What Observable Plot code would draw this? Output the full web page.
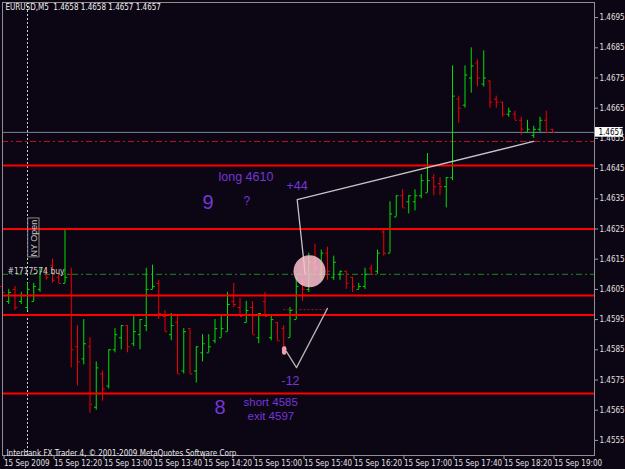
<!DOCTYPE html>
<html><head><meta charset="utf-8">
<script src="https://cdn.jsdelivr.net/npm/d3@7"></script>
<script src="https://cdn.jsdelivr.net/npm/@observablehq/plot@0.6"></script>
<style>
html,body{margin:0;padding:0;background:#0b0514;}
#chart svg{display:block;}
</style></head><body><div id="chart"></div>
<script>
// EURUSD M5 bars, 15 Sep 2009 11:40 .. 19:00 (bar index 0 = 11:40)
const opens = [1.4606,1.4601,1.4605,1.4601,1.4599,1.4601,1.4605,1.4611,1.4613,1.4609,
1.4607,1.4610,1.4586,1.4582,1.4586,1.4566,1.4577,1.4573,1.4585,1.4589,
1.4593,1.4587,1.4590,1.4593,1.4605,1.4607,1.4596,1.4590,1.4594,1.4578,
1.4592,1.4578,1.4584,1.4584,1.4588,1.4589,1.4591,1.4601,1.4599,1.4594,
1.4599,1.4589,1.4601,1.4589,1.4594,1.4592,1.4589,1.4595,1.4607,1.4605,
1.4614,1.4610,1.4617,1.4609,1.4610,1.4611,1.4609,1.4605,1.4606,1.4612,
1.4611,1.4624,1.4617,1.4629,1.4636,1.4634,1.4634,1.4636,1.4637,1.4642,
1.4640,1.4639,1.4642,1.4668,1.4666,1.4675,1.4680,1.4673,1.4674,1.4668,
1.4667,1.4663,1.4663,1.4661,1.4657,1.4656,1.4658,1.4661,1.4658];
const highs = [1.4607,1.4605,1.4606,1.4604,1.4607,1.4607,1.4612,1.4612,1.4615,1.4610,
1.4625,1.4612,1.4593,1.4595,1.4589,1.4581,1.4578,1.4585,1.4592,1.4593,
1.4593,1.4596,1.4595,1.4612,1.4613,1.4608,1.4598,1.4597,1.4596,1.4592,
1.4592,1.4586,1.4590,1.4590,1.4595,1.4596,1.4604,1.4607,1.4602,1.4601,
1.4601,1.4597,1.4604,1.4596,1.4594,1.4593,1.4599,1.4609,1.4608,1.4617,
1.4620,1.4618,1.4619,1.4616,1.4611,1.4611,1.4609,1.4607,1.4612,1.4613,
1.4618,1.4625,1.4634,1.4636,1.4638,1.4636,1.4638,1.4643,1.4650,1.4643,
1.4642,1.4642,1.4679,1.4669,1.4679,1.4685,1.4681,1.4684,1.4674,1.4669,
1.4667,1.4665,1.4664,1.4662,1.4661,1.4659,1.4662,1.4664,1.4658];
const lows = [1.4603,1.4600,1.4598,1.4600,1.4598,1.4601,1.4604,1.4608,1.4607,1.4607,
1.4607,1.4579,1.4573,1.4580,1.4564,1.4565,1.4568,1.4572,1.4584,1.4585,
1.4584,1.4586,1.4585,1.4591,1.4605,1.4595,1.4591,1.4588,1.4577,1.4577,
1.4577,1.4574,1.4581,1.4584,1.4587,1.4589,1.4591,1.4599,1.4596,1.4594,
1.4590,1.4587,1.4596,1.4588,1.4588,1.4584,1.4589,1.4595,1.4601,1.4604,
1.4611,1.4608,1.4608,1.4608,1.4608,1.4605,1.4604,1.4605,1.4605,1.4610,
1.4610,1.4616,1.4617,1.4629,1.4632,1.4630,1.4631,1.4635,1.4637,1.4636,
1.4636,1.4632,1.4641,1.4660,1.4665,1.4670,1.4672,1.4672,1.4665,1.4665,
1.4662,1.4662,1.4661,1.4656,1.4657,1.4655,1.4657,1.4657,1.4657];
const closes = [1.4604,1.4604,1.4599,1.4603,1.4605,1.4606,1.4611,1.4609,1.4608,1.4607,
1.4609,1.4585,1.4581,1.4587,1.4567,1.4579,1.4572,1.4585,1.4590,1.4593,
1.4586,1.4591,1.4595,1.4605,1.4606,1.4597,1.4591,1.4593,1.4577,1.4591,
1.4577,1.4586,1.4587,1.4586,1.4592,1.4592,1.4600,1.4600,1.4596,1.4598,
1.4590,1.4597,1.4596,1.4595,1.4588,1.4586,1.4598,1.4606,1.4605,1.4614,
1.4612,1.4617,1.4611,1.4614,1.4611,1.4607,1.4606,1.4606,1.4610,1.4610,
1.4617,1.4617,1.4630,1.4636,1.4632,1.4636,1.4636,1.4641,1.4641,1.4639,
1.4639,1.4642,1.4669,1.4665,1.4676,1.4679,1.4675,1.4675,1.4667,1.4667,
1.4663,1.4664,1.4661,1.4658,1.4658,1.4658,1.4661,1.4657,1.4657];

const timeTicks = [0,8,16,24,32,40,48,56,64,72,80,88];
const timeLabels = ["15 Sep 2009","15 Sep 12:20","15 Sep 13:00","15 Sep 13:40","15 Sep 14:20","15 Sep 15:00",
  "15 Sep 15:40","15 Sep 16:20","15 Sep 17:00","15 Sep 17:40","15 Sep 18:20","15 Sep 19:00"];
const priceTicks = [1.4555,1.4565,1.4575,1.4585,1.4595,1.4605,1.4615,1.4625,1.4635,1.4645,1.4655,1.4665,1.4675,1.4685,1.4695];

const levels = [1.4646, 1.4625, 1.4603, 1.45965, 1.45705];   // red horizontal lines
const bidPrice = 1.4657;
const entryPrice = 1.4610;     // green dash-dot (buy #1717574)
const targetPrice = 1.4654;    // red dash-dot
const nyOpenBar = 4;           // 12:00

// drawn trade lines (bar index, price)
const longLine = [{i:48.43, p:1.4610},{i:47.15, p:1.46347},{i:84.96, p:1.4654}];
const shortLine = [{i:45.44, p:1.45844},{i:47.04, p:1.45791},{i:52, p:1.45987}];
const shortTrade = {i1:44.96, i2:52, p:1.45983};
const circleMark = {i:49.12, p:1.46110};
const shortMark = {i:45.07, p1:1.45839, p2:1.45853};

const purpleTexts = [
  {t:"long 4610", i:34.56, p:1.46421, fs:12.5},
  {t:"+44", i:45.44, p:1.46391, fs:12.5},
  {t:"9", i:32.0, p:1.46339, fs:20},
  {t:"?", i:38.56, p:1.46341, fs:12},
  {t:"-12", i:44.64, p:1.45748, fs:12.5},
  {t:"8", i:33.92, p:1.45660, fs:20},
  {t:"short 4585", i:38.56, p:1.45675, fs:11.5},
  {t:"exit 4597", i:39.2, p:1.45630, fs:11.5}
];
const orderLabel = {t:"#1717574 buy", i:0.8, p:1.4611};
const nyLabel = {t:"NY Open", i:5.04, p:1.46220, i1:4.11, i2:5.92, p1:1.46156, p2:1.46285};

const symbolName = "EURUSD,M5";
const copyright = "Interbank FX Trader 4, \u00a9 2001-2009 MetaQuotes Software Corp.";

const UP = "#00e000", DN = "#f00000";
const bars = opens.map((o, i) => ({i, o, h: highs[i], l: lows[i], c: closes[i], col: closes[i] >= o ? UP : DN}));
const last = bars[bars.length - 1];
const f4 = d => d.toFixed(4);
const title = `${symbolName}\u00a0\u00a0${f4(last.o)} ${f4(last.h)} ${f4(last.l)} ${f4(last.c)}`;
const tickLabel = new Map(timeTicks.map((t, j) => [t, timeLabels[j]]));
const narrow = "'Liberation Sans Narrow','DejaVu Sans Condensed','Liberation Sans',sans-serif";
const sans = "'Liberation Sans',Arial,sans-serif";
const xMax = (594 - 2) / 6.25;

const chart = Plot.plot({
  width: 625, height: 469,
  marginLeft: 2, marginRight: 31, marginTop: 2, marginBottom: 14,
  style: {background: "#0b0514", color: "#e0e0e0", fontFamily: narrow, fontSize: "8px", overflow: "visible"},
  x: {domain: [0, xMax], label: null},
  y: {domain: [1.4550, 1.4700], label: null},
  color: {type: "identity"},
  marks: [
    Plot.ruleX([nyOpenBar], {x: d => d, stroke: "#d0d0d0", strokeDasharray: "2,2"}),
    Plot.ruleY([bidPrice], {y: d => d, stroke: "#778899"}),
    Plot.ruleY([entryPrice], {y: d => d, stroke: "#1f8a1f", strokeDasharray: "6,3,2,3"}),
    Plot.ruleY([targetPrice], {y: d => d, stroke: "#c41818", strokeDasharray: "6,3,2,3"}),
    Plot.ruleX(bars, {x: "i", y1: "l", y2: "h", stroke: "col", strokeWidth: 1}),
    Plot.link(bars, {x1: d => d.i - 0.35, x2: "i", y1: "o", y2: "o", stroke: "col"}),
    Plot.link(bars, {x1: "i", x2: d => d.i + 0.35, y1: "c", y2: "c", stroke: "col"}),
    Plot.ruleY(levels, {y: d => d, stroke: "#ff0000", strokeWidth: 2}),
    Plot.line(longLine, {x: "i", y: "p", stroke: "#c4c4c4", strokeWidth: 1.3}),
    Plot.line(shortLine, {x: "i", y: "p", stroke: "#b4b4b4", strokeWidth: 1.3}),
    Plot.link([shortTrade], {x1: "i1", x2: "i2", y1: "p", y2: "p", stroke: "#a01818", strokeDasharray: "2,2"}),
    Plot.dot([circleMark], {x: "i", y: "p", r: 16, fill: "#ffc2cf", fillOpacity: 0.85}),
    Plot.ruleX([shortMark], {x: "i", y1: "p1", y2: "p2", stroke: "#f0a0ac", strokeWidth: 4.5, strokeLinecap: "round"}),
    Plot.rect([nyLabel], {x1: "i1", x2: "i2", y1: "p1", y2: "p2", stroke: "#8a8a8a", fill: "none"}),
    Plot.text([nyLabel], {x: "i", y: "p", text: "t", rotate: -90, fill: "#c8c8c8", fontSize: 9, fontFamily: sans, textAnchor: "middle", lineAnchor: "middle"}),
    Plot.text([orderLabel], {x: "i", y: "p", text: "t", fill: "#d0d0d0", fontSize: 8.5, textAnchor: "start", lineAnchor: "middle"}),
    Plot.text(purpleTexts, {x: "i", y: "p", text: "t", fontSize: "fs", fill: "#7636d8", fontFamily: sans, textAnchor: "start", lineAnchor: "middle"}),
    Plot.frame({stroke: "#909090"}),
    Plot.axisY({ticks: priceTicks, anchor: "right", tickSize: 3, tickPadding: 2, tickFormat: f4, stroke: "#a0a0a0", fill: "#e0e0e0", fontSize: 8, label: null}),
    Plot.axisX({ticks: timeTicks, anchor: "bottom", tickSize: 4, tickPadding: 1, tickFormat: d => tickLabel.get(d), textAnchor: "start", dx: 1.5, stroke: "#a0a0a0", fill: "#e0e0e0", fontSize: 8, label: null}),
    Plot.rect([last], {x1: xMax + 0.15, x2: xMax + 4.6, y1: d => d.c - 0.00016, y2: d => d.c + 0.00016, fill: "#ffffff"}),
    Plot.text([last], {y: "c", text: d => f4(d.c), frameAnchor: "right", dx: 4, textAnchor: "start", fill: "#000000", fontSize: 8}),
    Plot.text([title], {frameAnchor: "top-left", dx: 3, dy: 2, fill: "#f0f0f0", fontSize: 8}),
    Plot.text([copyright], {frameAnchor: "bottom-left", dx: 4, dy: 0, fill: "#e8e8e8", fontSize: 8})
  ]
});
document.getElementById("chart").appendChild(chart);
</script>
</body></html>
